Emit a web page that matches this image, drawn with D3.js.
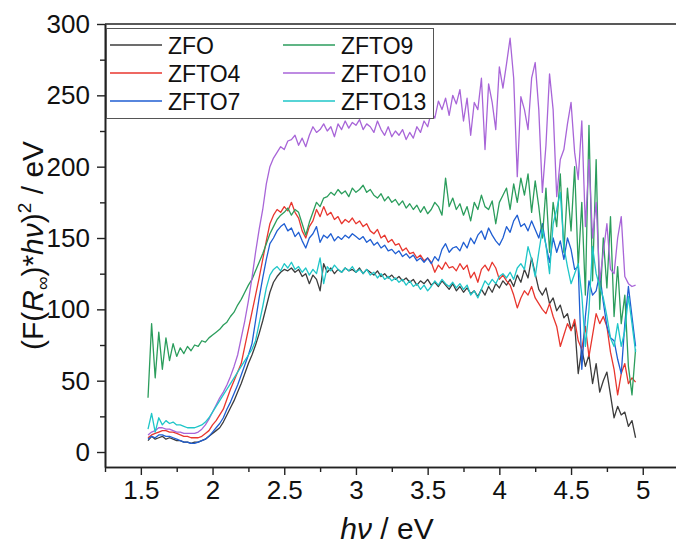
<!DOCTYPE html>
<html>
<head>
<meta charset="utf-8">
<script src="https://cdn.jsdelivr.net/npm/d3@7"></script>
<style>
    body { margin: 0; background: #fff; }
    svg text { font-family: "Liberation Sans", Arial, sans-serif; fill: #111; }
</style>
</head>
<body>
<div id="chart"></div>
<script>
// photon energy grid (eV), 0.025 eV steps from 1.55 to 4.95
var energy = d3.range(137).map(function(i) { return Math.round((1.55 + i * 0.025) * 1000) / 1000; });

var zfo = [
    8, 11, 9, 10, 11, 9, 10, 9, 8, 8,
    7, 7, 6, 7, 7, 8, 9, 11, 13, 15,
    17, 21, 26, 31, 36, 42, 48, 55, 62, 68,
    75, 83, 92, 102, 112, 119, 123, 126, 128, 127,
    129, 126, 128, 123, 125, 118, 124, 121, 113, 132,
    126, 129, 125, 128, 126, 129, 127, 128, 126, 129,
    125, 128, 126, 124, 127, 123, 125, 122, 124, 121,
    123, 120, 122, 119, 121, 117, 120, 118, 121, 117,
    119, 116, 120, 117, 114, 118, 113, 116, 112, 115,
    111, 113, 109, 114, 110, 116, 112, 118, 115, 120,
    117, 121, 116, 124, 119, 128, 122, 136, 125, 114,
    110, 115, 104, 108, 99, 103, 94, 97, 86, 90,
    55, 72, 60, 68, 48, 62, 42, 50, 56, 40,
    24, 32, 26, 28, 18, 22, 10
];
var zfto4 = [
    10, 12, 13, 14, 15, 15, 14, 14, 13, 12,
    11, 11, 10, 10, 10, 11, 13, 15, 19, 22,
    26, 30, 37, 44, 50, 56, 62, 74, 86, 98,
    110, 122, 135, 148, 160, 166, 170, 168, 172, 169,
    175, 168, 164, 155, 150, 158, 162, 170, 165, 172,
    166, 168, 163, 165, 160, 163, 161, 164, 160, 162,
    158, 160, 155, 153, 156, 150, 152, 147, 149, 145,
    146, 141, 143, 139, 140, 136, 138, 134, 136, 133,
    126, 131, 128, 133, 129, 130, 127, 132, 128, 131,
    122, 126, 119, 128, 131, 127, 133, 129, 121, 124,
    120, 117, 110, 101, 108, 113, 110, 116, 108, 104,
    100, 97, 104, 95, 88, 74, 82, 90, 85, 93,
    78, 72, 88, 67, 82, 97, 90, 95, 88, 70,
    58, 40, 55, 62, 48, 52, 49
];
var zfto7 = [
    9, 11, 10, 12, 12, 11, 11, 10, 9, 8,
    7, 7, 6, 6, 7, 8, 9, 11, 14, 17,
    20, 24, 30, 35, 41, 47, 54, 61, 68, 76,
    92, 108, 122, 135, 146, 150, 155, 158, 160, 155,
    157, 151, 154, 148, 143, 150, 153, 158, 147, 152,
    150, 153, 148, 151, 149, 152, 150, 153, 151, 149,
    151, 147, 149, 145, 147, 143, 145, 141, 142, 139,
    141, 137, 139, 136, 138, 134, 136, 133, 136, 132,
    137, 134, 142, 146, 140, 143, 144, 141, 147, 143,
    150, 146, 152, 155, 149, 157, 152, 148, 145, 150,
    158, 154, 162, 166, 158, 160, 155, 162, 156, 150,
    160, 145, 133, 150, 140, 148, 135, 150, 142, 128,
    130, 58, 95, 120, 110, 113, 125, 105, 88, 80,
    78, 65, 55, 90, 116, 95, 74
];
var zfto9 = [
    38, 90, 52, 84, 58, 80, 64, 76, 67, 73,
    69, 74, 71, 75, 74, 78, 77, 80, 82, 84,
    86, 89, 91, 95, 98, 103, 107, 112, 117, 121,
    127, 133, 139, 146, 153, 158, 163, 166, 168, 171,
    166, 170, 168, 160, 152, 161, 168, 175, 172, 178,
    179, 182, 180, 184, 181, 183, 179, 185, 182, 184,
    187, 182, 184, 180, 178, 181, 176, 179, 175, 177,
    173, 176, 171, 174, 170, 173, 168, 172, 167, 170,
    175, 172, 166, 192, 172, 178, 170, 174, 166, 172,
    162, 175, 170, 180, 172, 170, 176, 160, 175, 180,
    185, 170, 188, 175, 192, 180, 195, 168, 190, 172,
    150, 185, 140, 175, 158, 195, 140, 185, 155, 200,
    130, 175, 110, 229, 120, 205, 100, 150, 115, 165,
    95, 130, 90, 110, 60, 40, 72
];
var zfto10 = [
    12, 14, 15, 17, 17, 16, 16, 15, 14, 14,
    13, 13, 13, 13, 14, 16, 19, 23, 28, 33,
    38, 42, 47, 53, 60, 68, 80, 92, 106, 122,
    140, 156, 170, 188, 200, 206, 210, 214, 212, 218,
    219, 222, 215, 220, 214, 222, 228, 224, 226, 230,
    225, 228, 221, 230, 226, 232, 227, 231, 229, 233,
    226, 230, 228, 224, 232, 226, 222, 228, 221, 225,
    222, 226, 219, 224, 220, 228, 224, 232, 228, 238,
    234, 246, 240, 248, 236, 250, 244, 254, 232, 248,
    222, 245, 240, 262, 212, 258, 245, 226, 270, 255,
    272, 290, 262, 193, 249, 240, 226, 262, 273, 240,
    182, 215, 265, 240, 179, 205, 212, 230, 245, 210,
    191, 232, 158, 205, 150, 175, 120, 140, 160, 128,
    125, 150, 165, 123, 118, 116, 117
];
var zfto13 = [
    16, 27, 14, 24, 19, 22, 20, 21, 19, 19,
    18, 17, 17, 17, 18, 19, 21, 24, 28, 32,
    36, 40, 44, 48, 52, 56, 60, 64, 68, 72,
    78, 90, 102, 115, 124, 128, 130, 127, 132, 129,
    133, 128, 130, 126, 129, 124, 128, 125, 136, 118,
    130, 127, 131, 128, 126, 129, 127, 130, 126, 128,
    125, 128, 124, 126, 122, 125, 121, 123, 120, 122,
    119, 121, 117, 120, 116, 118, 114, 117, 113, 116,
    120, 117, 121, 118, 116, 119, 115, 118, 114, 117,
    110, 113, 108, 114, 120, 117, 121, 118, 123, 125,
    122, 126, 121, 129, 132, 128, 144, 135, 123, 140,
    156, 145, 125, 160, 170, 182, 144, 130, 118, 125,
    132, 110, 74, 100, 144, 125, 116, 108, 95, 80,
    74, 90, 74, 85, 109, 90, 70
];

var seriesNames = ["ZFO", "ZFTO4", "ZFTO7", "ZFTO9", "ZFTO10", "ZFTO13"];
var seriesValues = [zfo, zfto4, zfto7, zfto9, zfto10, zfto13];
var seriesColors = ["#3c3c3c", "#e8362e", "#1f5ed2", "#2b9d5c", "#a865d8", "#1fc6c8"];

var xTicks = [1.5, 2, 2.5, 3, 3.5, 4, 4.5, 5];
var xMinorTicks = [1.25, 1.75, 2.25, 2.75, 3.25, 3.75, 4.25, 4.75];
var yTicks = [0, 50, 100, 150, 200, 250, 300];
var yMinorTicks = [25, 75, 125, 175, 225, 275];

var W = 676, H = 544;
var pLeft = 105, pTop = 24, pBottom = 467, pRight = 678.6;

var svg = d3.select("#chart").append("svg")
    .attr("width", W)
    .attr("height", H);

var x = d3.scaleLinear().domain([1.25, 5.25]).range([pLeft, pRight]);
var y = d3.scaleLinear().domain([-10.5, 300]).range([pBottom, pTop]);

// top frame line
svg.append("line")
    .attr("x1", pLeft).attr("x2", W)
    .attr("y1", pTop).attr("y2", pTop)
    .attr("stroke", "#222")
    .attr("stroke-width", 1.6);

// spectra
var line = d3.line()
    .x(function(d) { return x(d[0]); })
    .y(function(d) { return y(d[1]); });

seriesValues.forEach(function(vals, i) {
    var pts = energy.map(function(e, j) { return [e, vals[j]]; });
    svg.append("path")
        .datum(pts)
        .attr("fill", "none")
        .attr("stroke", seriesColors[i])
        .attr("stroke-width", 1.3)
        .attr("stroke-linejoin", "round")
        .attr("d", line);
});

// axes
function styleAxis(g) {
    g.select(".domain").attr("stroke", "#222").attr("stroke-width", 1.6);
    g.selectAll(".tick line").attr("stroke", "#222").attr("stroke-width", 1.4);
    g.selectAll(".tick text").attr("fill", "#111").style("font-size", "26px")
        .style("font-family", "'Liberation Sans', Arial, sans-serif");
}

svg.append("g")
    .attr("transform", "translate(0," + pBottom + ")")
    .call(d3.axisBottom(x).tickValues(xMinorTicks).tickSize(5).tickSizeOuter(0).tickFormat(""))
    .call(styleAxis);
svg.append("g")
    .attr("transform", "translate(0," + pBottom + ")")
    .call(d3.axisBottom(x).tickValues(xTicks).tickSize(8).tickSizeOuter(0).tickPadding(6).tickFormat(d3.format("")))
    .call(styleAxis);

svg.append("g")
    .attr("transform", "translate(" + pLeft + ",0)")
    .call(d3.axisLeft(y).tickValues(yMinorTicks).tickSize(5).tickSizeOuter(0).tickFormat(""))
    .call(styleAxis);
svg.append("g")
    .attr("transform", "translate(" + pLeft + ",0)")
    .call(d3.axisLeft(y).tickValues(yTicks).tickSize(8).tickSizeOuter(0).tickPadding(7).tickFormat(d3.format("")))
    .call(styleAxis);

// axis titles
var xt = svg.append("text")
    .attr("x", 387)
    .attr("y", 539)
    .attr("text-anchor", "middle")
    .style("font-size", "30px");
xt.append("tspan").style("font-style", "italic").text("hν");
xt.append("tspan").text(" / eV");

var yt = svg.append("text")
    .attr("transform", "translate(43," + ((pTop + pBottom) / 2) + ") rotate(-90)")
    .attr("text-anchor", "middle")
    .style("font-size", "30px");
yt.append("tspan").text("(F(");
yt.append("tspan").style("font-style", "italic").text("R");
yt.append("tspan").attr("dy", 6).style("font-size", "19px").text("∞");
yt.append("tspan").attr("dy", -6).text(")*");
yt.append("tspan").style("font-style", "italic").text("hν");
yt.append("tspan").text(")");
yt.append("tspan").attr("dy", -12).style("font-size", "19px").text("2");
yt.append("tspan").attr("dy", 12).text(" / eV");

// legend
var legend = svg.append("g").attr("class", "legend");
legend.append("rect")
    .attr("x", 106.5).attr("y", 28.5)
    .attr("width", 327).attr("height", 90)
    .attr("fill", "#fff")
    .attr("stroke", "#555")
    .attr("stroke-width", 1);

seriesNames.forEach(function(name, i) {
    var col = i < 3 ? 0 : 1, row = i % 3;
    var gx = col === 0 ? 110 : 283;
    var gy = 45 + row * 28;
    var g = legend.append("g").attr("transform", "translate(" + gx + "," + gy + ")");
    g.append("line")
        .attr("x1", 0).attr("x2", 52)
        .attr("y1", 0).attr("y2", 0)
        .attr("stroke", seriesColors[i])
        .attr("stroke-width", 1.3);
    g.append("text")
        .attr("x", 58)
        .attr("y", 8.5)
        .style("font-size", "23px")
        .text(name);
});
</script>
</body>
</html>
